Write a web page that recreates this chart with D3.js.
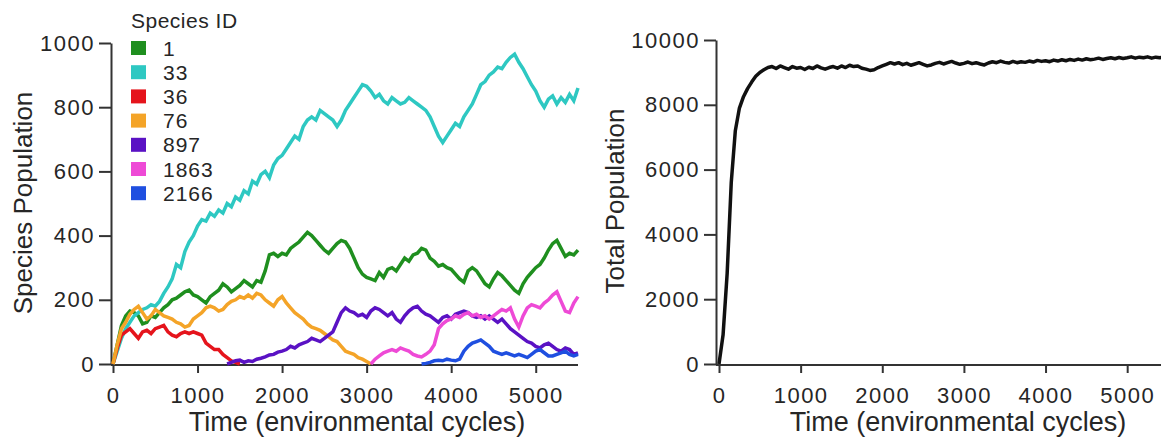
<!DOCTYPE html>
<html><head><meta charset="utf-8">
<script src="https://cdn.jsdelivr.net/npm/d3@7"></script>
<style>
body{margin:0;background:#fff;}
text{font-family:"Liberation Sans",Arial,Helvetica,sans-serif;fill:#262626;}
</style>
</head><body>
<svg id="c" width="1161" height="441"></svg>
<script>
// ---- data (time sampled every 50 environmental cycles) ----
const STEP = 50;
const speciesIds = ["1","33","36","76","897","1863","2166"];
const speciesColors = ["#1f8f1f","#2ec8c2","#e5141c","#f4a428","#5a12c4","#ee4ad6","#1f4fe0"];
const speciesStart = [0,0,0,0,1350,3050,3650];

const sp1 = [0,60,120,150,165,160,150,125,130,150,
 145,160,175,185,200,205,215,225,230,215,
 210,200,190,210,220,230,250,240,225,235,
 245,260,250,240,260,255,290,340,345,335,
 345,340,360,370,380,395,410,400,385,370,
 355,345,360,375,385,380,360,330,300,280,
 270,265,260,285,270,295,300,290,310,330,
 320,340,345,360,355,330,320,305,310,300,
 295,280,265,255,290,300,290,270,250,240,
 265,285,275,260,245,230,220,250,270,285,
 300,310,330,355,375,385,360,335,345,340,355];
const sp33 = [0,40,80,110,130,150,160,170,175,185,
 180,195,220,240,265,310,300,350,380,400,
 430,450,445,470,460,480,470,500,490,520,
 510,540,530,570,560,590,600,580,620,640,
 650,670,690,710,700,740,760,770,760,790,
 780,770,760,740,760,790,810,830,850,870,
 865,850,830,840,820,810,830,820,810,815,
 830,820,810,800,790,770,740,710,690,710,
 730,750,740,770,790,810,840,870,880,900,
 910,925,920,940,955,965,940,920,895,870,
 850,820,800,825,835,810,830,815,840,820,860];
const sp36 = [0,50,90,100,110,95,80,100,105,95,
 110,115,120,100,90,85,95,100,95,100,
 95,90,65,55,45,45,30,20,10,5,0];
const sp76 = [0,60,110,130,155,170,180,160,140,150,
 170,160,150,145,140,130,125,115,120,140,
 150,160,175,180,175,165,170,185,195,200,
 210,205,215,205,220,215,200,190,180,200,
 210,190,175,160,150,140,125,115,110,105,
 95,85,75,70,55,40,35,30,20,15,8,0];
const sp897 = [0,5,10,
 12,5,10,8,15,18,22,28,30,37,
 40,45,55,50,60,65,70,80,75,70,
 80,90,100,130,160,175,165,160,150,155,
 145,165,175,170,160,150,160,140,130,150,
 165,175,180,165,155,150,140,130,145,150,
 140,155,160,165,160,150,145,150,140,150,
 140,130,140,125,110,100,90,80,70,65,
 55,50,60,65,55,45,40,50,45,30,35];
const sp1863 = [0,15,25,35,40,45,40,50,45,
 40,30,25,22,30,40,60,110,125,135,
 140,150,145,155,160,150,155,145,150,140,
 150,160,170,165,175,140,115,150,175,185,
 180,175,190,200,215,225,195,165,160,190,210];
const sp2166 = [0,2,5,10,12,10,15,
 12,10,15,40,55,65,70,75,65,55,
 40,35,30,35,30,25,30,25,20,30,
 40,45,35,25,25,30,35,40,30,25,30];
const totalPop = [0,900,2800,5600,7200,7900,8250,8500,8700,8880,
 9000,9080,9150,9180,9120,9200,9150,9100,9180,9130,
 9150,9090,9160,9120,9200,9140,9100,9150,9180,9130,
 9200,9150,9220,9180,9200,9130,9100,9060,9080,9150,
 9200,9250,9300,9260,9300,9240,9280,9220,9260,9300,
 9250,9200,9230,9280,9310,9260,9300,9340,9290,9250,
 9280,9320,9270,9300,9260,9230,9290,9330,9300,9350,
 9310,9290,9340,9300,9330,9310,9350,9320,9370,9340,
 9360,9330,9380,9350,9390,9360,9400,9370,9410,9380,
 9420,9390,9410,9440,9400,9430,9450,9420,9460,9430,
 9450,9480,9440,9470,9450,9480,9440,9470,9450,9480,9460];
const speciesSeries = [sp1, sp33, sp36, sp76, sp897, sp1863, sp2166];

const xTicks = [0,1000,2000,3000,4000,5000];
const yTicksLeft = [0,200,400,600,800,1000];
const yTicksRight = [0,2000,4000,6000,8000,10000];
const xTitle = "Time (environmental cycles)";
const yTitleLeft = "Species Population";
const yTitleRight = "Total Population";
const legendTitle = "Species ID";

// ---- drawing ----
const svg = d3.select("#c");
const AX = "#333";

function toPoints(arr, start){ return arr.map((v,i)=>({t:start+i*STEP, v})); }

function styleAxis(g, fs, ls){
  g.selectAll("path.domain").attr("stroke",AX).attr("stroke-width",2);
  g.selectAll(".tick line").attr("stroke",AX).attr("stroke-width",2);
  g.selectAll(".tick text").attr("fill","#262626").style("font-size",fs+"px")
    .style("letter-spacing",ls+"px").style("font-family",'"Liberation Sans",Arial,sans-serif');
}

// Left panel
const xL = d3.scaleLinear().domain([0,5500]).range([113,578]);
const yL = d3.scaleLinear().domain([0,1000]).range([364,43]);

const gxL = svg.append("g").attr("transform","translate(0,365)")
  .call(d3.axisBottom(xL).tickValues(xTicks).tickFormat(d3.format("d")).tickSize(8).tickPadding(14).tickSizeOuter(0));
gxL.select(".domain").attr("d","M111,0H578");
styleAxis(gxL,22,1.5);

const gyL = svg.append("g").attr("transform","translate(111,0)")
  .call(d3.axisLeft(yL).tickValues(yTicksLeft).tickFormat(d3.format("d")).tickSize(12).tickPadding(4).tickSizeOuter(0));
styleAxis(gyL,22,1.5);

const lineL = d3.line().x(d=>xL(d.t)).y(d=>yL(d.v));
speciesSeries.forEach((s,i)=>{
  svg.append("path").datum(toPoints(s, speciesStart[i]))
    .attr("fill","none").attr("stroke",speciesColors[i]).attr("stroke-width",3.5)
    .attr("stroke-linejoin","miter").attr("stroke-miterlimit",3).attr("d",lineL);
});

svg.append("text").attr("x",357).attr("y",431).attr("text-anchor","middle")
  .style("font-size","27px").text(xTitle);
svg.append("text").attr("transform","translate(32,203) rotate(-90)").attr("text-anchor","middle")
  .style("font-size","26px").text(yTitleLeft);

// Legend
const lg = svg.append("g");
lg.append("text").attr("x",131).attr("y",28).style("font-size","21px").style("letter-spacing","0.5px").text(legendTitle);
speciesIds.forEach((id,i)=>{
  const cy = 48 + i*24.2;
  lg.append("rect").attr("x",131).attr("y",cy-7).attr("width",15).attr("height",14).attr("fill",speciesColors[i]);
  lg.append("text").attr("x",163).attr("y",cy).attr("dy","0.36em").style("font-size","21px")
    .style("letter-spacing","1px").text(id);
});

// Right panel
const xR = d3.scaleLinear().domain([0,5500]).range([719,1168]);
const yR = d3.scaleLinear().domain([0,10000]).range([364,40]);

const gxR = svg.append("g").attr("transform","translate(0,365)")
  .call(d3.axisBottom(xR).tickValues(xTicks).tickFormat(d3.format("d")).tickSize(8).tickPadding(14).tickSizeOuter(0));
gxR.select(".domain").attr("d","M716,0H1161");
styleAxis(gxR,22,1.5);

const gyR = svg.append("g").attr("transform","translate(716,0)")
  .call(d3.axisLeft(yR).tickValues(yTicksRight).tickFormat(d3.format("d")).tickSize(12).tickPadding(4).tickSizeOuter(0));
styleAxis(gyR,22,1.5);

const lineR = d3.line().x(d=>xR(d.t)).y(d=>yR(d.v));
svg.append("path").datum(toPoints(totalPop,0))
  .attr("fill","none").attr("stroke","#111").attr("stroke-width",3.5)
  .attr("stroke-linejoin","round").attr("d",lineR);

svg.append("text").attr("x",958).attr("y",431).attr("text-anchor","middle")
  .style("font-size","27px").text(xTitle);
svg.append("text").attr("transform","translate(624,201) rotate(-90)").attr("text-anchor","middle")
  .style("font-size","26px").text(yTitleRight);
</script>
</body></html>
